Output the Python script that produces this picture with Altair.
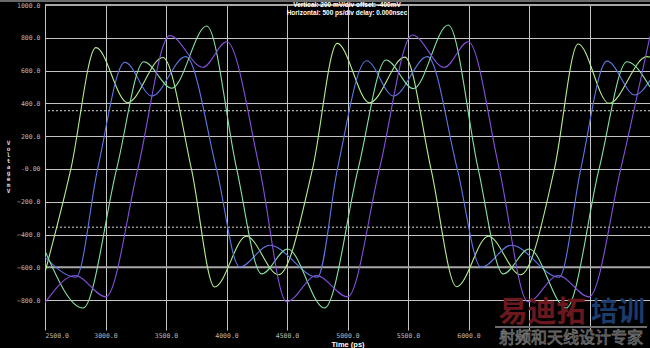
import altair as alt
import pandas as pd

# ---- data (time in ps, voltage in mV) ----
a_t = [2500, 2714, 2921, 3182, 3474, 3710, 3902, 4164, 4430, 4711, 4915, 5182, 5474, 5690, 5902, 6164, 6430, 6710, 6906, 7161, 7474, 7500]
a_v = [-630, 0, 740, 404, 680, 0, -720, -410, -645, 0, 766, 404, 682, 0, -718, -410, -645, 0, 762, 400, 685, 683]

b_t = [2500, 2756, 2935, 3160, 3383, 3663, 3917, 4109, 4356, 4752, 4917, 5157, 5380, 5660, 5907, 6105, 6353, 6749, 6928, 7145, 7376, 7500]
b_v = [-537, -660, 0, 650, 445, 685, 0, -598, -465, -660, 0, 660, 445, 685, 0, -600, -465, -660, 0, 658, 451, 540]

c_t = [2500, 2814, 3092, 3317, 3548, 3837, 4084, 4290, 4505, 4810, 5088, 5319, 5544, 5833, 6080, 6287, 6501, 6807, 7079, 7310, 7500]
c_v = [-500, -848, 0, 654, 492, 872, 0, -640, -488, -848, 0, 665, 490, 878, 0, -640, -488, -848, 0, 654, 500]

d_t = [2500, 2748, 3003, 3267, 3531, 3804, 4002, 4274, 4497, 4744, 5000, 5264, 5536, 5800, 5998, 6254, 6493, 6741, 6996, 7258, 7500]
d_v = [-815, -650, -780, 0, 813, 620, 776, 0, -810, -650, -780, 0, 817, 620, 776, 0, -810, -650, -780, 0, 810]

trace_names = ["A", "B", "C", "D"]
trace_colors = ["#b6ee8e", "#5e76e4", "#84e2a6", "#8650dc"]

x_ticks = [2500, 3000, 3500, 4000, 4500, 5000, 5500, 6000, 6500, 7000, 7500]
y_ticks = [-800, -600, -400, -200, 0, 200, 400, 600, 800, 1000]
threshold_levels = [355, -355]
bold_grid_levels = [1000, -600]

header_lines = ["Vertical: 200 mV/div  offset: -400mV",
                "Horizontal: 500 ps/div  delay: 0.000nsec"]
y_title = ["V", "o", "l", "t", "a", "g", "e", "m", "V"]

wm_parts = ["易迪拓", "培训"]
wm_sub = "射频和天线设计专家"

# ---- build table ----
rows = []
for name, ts, vs in zip(trace_names, [a_t, b_t, c_t, d_t], [a_v, b_v, c_v, d_v]):
    for t, v in zip(ts, vs):
        rows.append({"trace": name, "t": t, "v": v})
df = pd.DataFrame(rows)

xscale = alt.Scale(domain=[2500, 7500], nice=False, zero=False)
yscale = alt.Scale(domain=[-982, 1000], nice=False, zero=False)

x_axis = alt.Axis(
    values=x_ticks,
    labelExpr="datum.value >= 6500 ? '' : format(datum.value, '.1f')",
    grid=True, gridColor="#c4c4c4", gridWidth=1,
    domain=False, ticks=False, labelOverlap=False, labelBound=False,
    labelColor="#b8b8b8", labelFont="DejaVu Sans Mono", labelFontSize=6.5,
    labelPadding=2,
    title="Time (ps)", titleColor="white", titleFont="Liberation Sans",
    titleFontSize=7.5, titleFontWeight="bold",
    titleY=14, titleBaseline="middle")

y_axis = alt.Axis(
    values=y_ticks,
    labelExpr="datum.value == 0 ? '-0.00' : format(datum.value, '.1f')",
    grid=True, gridColor="#c4c4c4", gridWidth=1,
    domain=False, ticks=False, labelOverlap=False, labelBound=False,
    labelFlush=False,
    labelColor="#b8b8b8", labelFont="DejaVu Sans Mono", labelFontSize=6.5,
    labelPadding=5,
    title=y_title, titleAngle=0, titleColor="#d8d8d8",
    titleFont="DejaVu Sans Mono", titleFontSize=6, titleFontWeight="bold",
    titleLineHeight=6, titleX=-37, titleY=134,
    titleAlign="center", titleBaseline="top")

traces = alt.Chart(df).mark_line(interpolate="monotone", strokeWidth=1.1, clip=True).encode(
    x=alt.X("t:Q", scale=xscale, axis=x_axis),
    y=alt.Y("v:Q", scale=yscale, axis=y_axis),
    color=alt.Color("trace:N", scale=alt.Scale(domain=trace_names, range=trace_colors), legend=None),
)

thresholds = alt.Chart(pd.DataFrame({"v": threshold_levels})).mark_rule(
    strokeDash=[2, 2], color="#d8d8d8", strokeWidth=1).encode(
    y=alt.Y("v:Q", scale=yscale, axis=y_axis))

bold_grid = alt.Chart(pd.DataFrame({"v": bold_grid_levels})).mark_rule(
    color="#a8a8a8", strokeWidth=2).encode(
    y=alt.Y("v:Q", scale=yscale, axis=y_axis))

top_bar = alt.Chart(pd.DataFrame({"k": [0]})).mark_rule(color="#6a6a6a", strokeWidth=2).encode(
    x=alt.value(-45), x2=alt.value(605), y=alt.value(-4))

header = alt.Chart(pd.DataFrame({"txt": header_lines, "dy": [0, 7.7]})).mark_text(
    font="Liberation Sans", fontSize=6.5, fontWeight="bold", color="white",
    align="center", baseline="middle").encode(
    x=alt.value(302), y=alt.Y("dy:Q", scale=None), text="txt:N")

wm = alt.Chart(pd.DataFrame({"txt": wm_parts, "px": [497, 573], "fs": [29, 27],
                             "col": ["#6a181d", "#1c3a6a"]})).mark_text(
    font="Noto Sans CJK SC", fontWeight="bold",
    align="center", baseline="middle").encode(
    x=alt.X("px:Q", scale=None), y=alt.value(308), text="txt:N",
    size=alt.Size("fs:Q", scale=None),
    color=alt.Color("col:N", scale=None))

wm_line = alt.Chart(pd.DataFrame({"k": [0]})).mark_rule(color="#6e6e6e", strokeWidth=2).encode(
    x=alt.value(450), x2=alt.value(602), y=alt.value(322))

wm2 = alt.Chart(pd.DataFrame({"txt": [wm_sub]})).mark_text(
    font="Noto Sans CJK SC", fontSize=16, color="#141414", stroke="#747474", strokeWidth=0.8,
    align="center", baseline="middle").encode(
    x=alt.value(526), y=alt.value(333), text="txt:N")

chart = alt.layer(top_bar, bold_grid, thresholds, traces, header, wm, wm_line, wm2).properties(
    width=605, height=325,
    padding={"left": 45, "top": 5, "right": 0, "bottom": 18},
    autosize=alt.AutoSizeParams(type="none"),
    background="black",
).configure_view(stroke=None, fill="black")

chart.save("out.html", embed_options={"renderer": "svg", "actions": False})
